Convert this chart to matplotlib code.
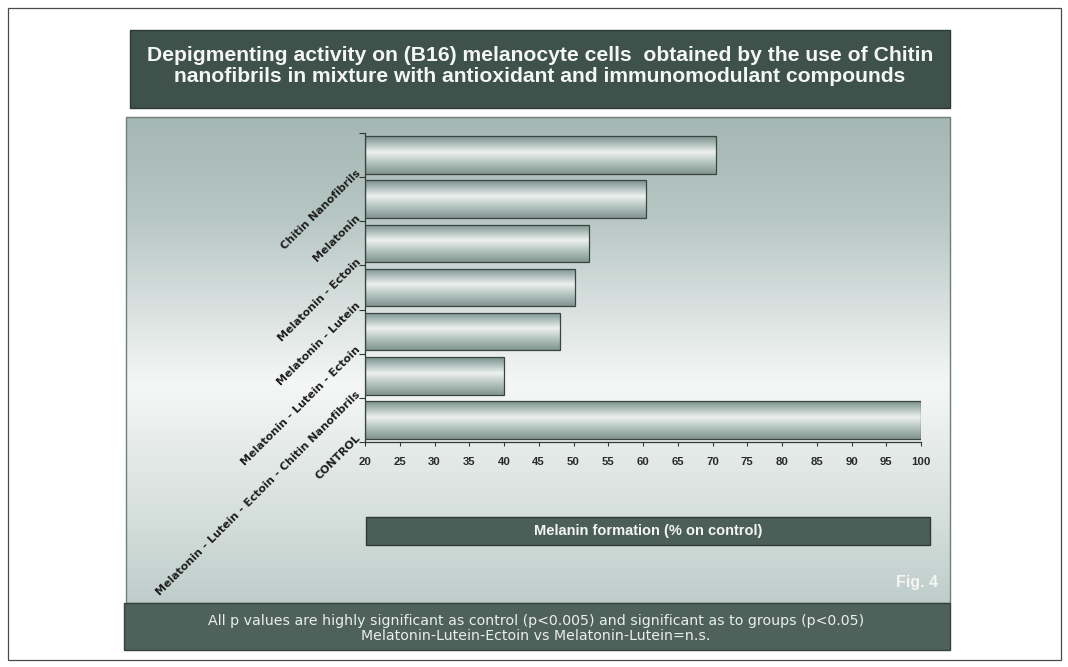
import numpy as np
import matplotlib.pyplot as plt
import matplotlib.transforms as mtransforms
from matplotlib.patches import Rectangle
from matplotlib.colors import LinearSegmentedColormap

# dados do gráfico
categorias = ["Chitin Nanofibrils", "Melatonin", "Melatonin - Ectoin", "Melatonin - Lutein",
              "Melatonin - Lutein - Ectoin",
              "Melatonin - Lutein - Ectoin - Chitin Nanofibrils", "CONTROL"]
melanina = [70.5, 60.4, 52.3, 50.2, 48.0, 40.0, 100.0]
ticks_x = list(range(20, 101, 5))

titulo = ("Depigmenting activity on (B16) melanocyte cells  obtained by the use of Chitin\n"
          "nanofibrils in mixture with antioxidant and immunomodulant compounds")
rotulo_x = "Melanin formation (% on control)"
nota = ["All p values are highly significant as control (p<0.005) and significant as to groups (p<0.05)",
        "Melatonin-Lutein-Ectoin vs Melatonin-Lutein=n.s."]
figura = "Fig. 4"

W, H = 1068, 667
fig = plt.figure(figsize=(W / 100, H / 100), dpi=100)

# camada de fundo em pixels
fundo = fig.add_axes([0, 0, 1, 1])
fundo.set_xlim(0, W)
fundo.set_ylim(H, 0)
fundo.axis('off')

fundo.add_patch(Rectangle((8, 8), 1053, 652, fill=False, ec='#4a4a4a', lw=0.9))

# painel com degradê vertical
cmap_painel = LinearSegmentedColormap.from_list('painel', [
    (0.0, '#a5b7b3'), (0.2, '#b6c6c3'), (0.55, '#f5f7f6'), (0.8, '#d8e1de'), (1.0, '#bfcdca')])
grad = np.linspace(0, 1, 256).reshape(-1, 1)
fundo.imshow(grad, cmap=cmap_painel, extent=[126, 950, 603, 117], aspect='auto', zorder=1)
fundo.add_patch(Rectangle((126, 117), 824, 486, fill=False, ec='#6f7f7a', lw=1, zorder=2))

# caixa do título
fundo.add_patch(Rectangle((130, 30), 820, 78, fc='#3e514b', ec='#2c3935', lw=1, zorder=2))
fundo.text(540, 66, titulo, ha='center', va='center', color='#f4f6f5', fontsize=15.2,
           fontweight='bold', family='Liberation Sans', linespacing=1.15, zorder=3)

# caixa do rótulo do eixo x
fundo.add_patch(Rectangle((366, 517), 564, 28, fc='#4c5e58', ec='#2e3a36', lw=1, zorder=2))
fundo.text(648, 531, rotulo_x, ha='center', va='center', color='#f2f5f4', fontsize=10.5,
           fontweight='bold', family='Liberation Sans', zorder=3)

fundo.text(938, 583, figura, ha='right', va='center', color='#f2f5f4', fontsize=11.5,
           fontweight='bold', family='Liberation Sans', zorder=3)

# caixa da nota de rodapé
fundo.add_patch(Rectangle((124, 603), 826, 47, fc='#4f615b', ec='#34413d', lw=1, zorder=2))
for k, linha in enumerate(nota):
    fundo.text(536, 621 + 15.5 * k, linha, ha='center', va='center', color='#e9eeec',
               fontsize=10.2, family='DejaVu Sans', zorder=3)

# eixo do gráfico de barras
ax = fig.add_axes([365 / W, 1 - 442 / H, (921 - 365) / W, (442 - 133) / H])
ax.patch.set_alpha(0)

pos = np.arange(len(categorias))
barras = ax.barh(pos, [v - 20 for v in melanina], left=20, height=0.85,
                 color='none', edgecolor='#3a4541', linewidth=0.9, zorder=3)

cmap_barra = LinearSegmentedColormap.from_list('barra', [
    (0.0, '#7d918c'), (0.18, '#a9bab6'), (0.42, '#edf1f0'), (0.72, '#b1c1bd'), (1.0, '#839691')])
grad_barra = np.linspace(0, 1, 64).reshape(-1, 1)
for b in barras:
    x0, y0 = b.get_x(), b.get_y()
    im = ax.imshow(grad_barra, cmap=cmap_barra, aspect='auto', zorder=2,
                   extent=[x0, x0 + b.get_width(), y0 + b.get_height(), y0])
    im.set_clip_path(b)

ax.set_xlim(20, 100)
ax.set_ylim(len(categorias) - 0.5, -0.5)

for lado in ['top', 'right']:
    ax.spines[lado].set_visible(False)
for lado in ['left', 'bottom']:
    ax.spines[lado].set_color('#2f3a36')
    ax.spines[lado].set_linewidth(0.9)

ax.set_xticks(ticks_x)
ax.set_xticklabels([str(t) for t in ticks_x], fontsize=8.2, fontweight='bold',
                   family='Liberation Sans', color='#2a2a2a')
ax.tick_params(axis='x', direction='out', length=3, width=0.8, color='#2f3a36', pad=8)
ax.set_yticks(np.arange(-0.5, len(categorias), 1))
ax.set_yticklabels([])
ax.tick_params(axis='y', direction='out', length=4, width=0.8, color='#2f3a36')

# rótulos das categorias inclinados
desloc = mtransforms.ScaledTranslation(-6 / 100, 0, fig.dpi_scale_trans)
for i, nome in enumerate(categorias):
    ax.text(0, i + 0.38, nome, transform=ax.get_yaxis_transform() + desloc,
            rotation=45, rotation_mode='anchor', ha='right', va='center',
            fontsize=7.9, fontweight='bold', color='#1e1e1e', family='DejaVu Sans')

fig.savefig('out.png', dpi=100)
